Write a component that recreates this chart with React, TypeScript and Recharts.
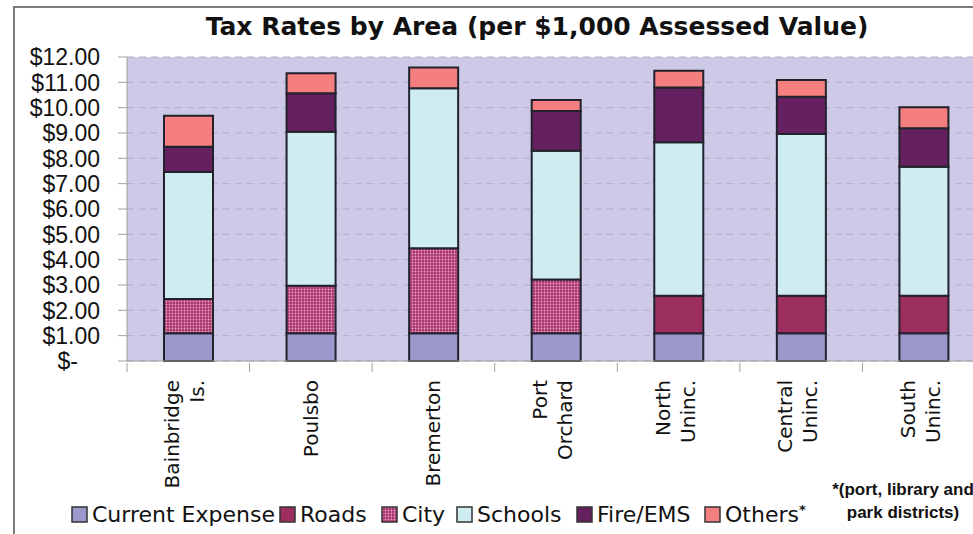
import React from "react"
import { Bar, BarChart, CartesianGrid, XAxis, YAxis } from "recharts"

const categories = ["Bainbridge Is.", "Poulsbo", "Bremerton", "Port Orchard", "North Uninc.", "Central Uninc.", "South Uninc."]
const currentExpense = [1.1, 1.1, 1.1, 1.1, 1.1, 1.1, 1.1]
const roads = [0, 0, 0, 0, 1.48, 1.48, 1.48]
const city = [1.35, 1.87, 3.35, 2.12, 0, 0, 0]
const schools = [5.01, 6.08, 6.32, 5.08, 6.05, 6.38, 5.09]
const fireEms = [1.0, 1.52, 0, 1.57, 2.17, 1.47, 1.52]
const others = [1.22, 0.79, 0.82, 0.43, 0.66, 0.66, 0.83]
const yTicks = [0, 1, 2, 3, 4, 5, 6, 7, 8, 9, 10, 11, 12]

const series = [
  { key: "currentExpense", name: "Current Expense", values: currentExpense, fill: "#9b98cb" },
  { key: "roads", name: "Roads", values: roads, fill: "#9c2f60" },
  { key: "city", name: "City", values: city, fill: "url(#cityDots)" },
  { key: "schools", name: "Schools", values: schools, fill: "#cfedf1" },
  { key: "fireEms", name: "Fire/EMS", values: fireEms, fill: "#64205f" },
  { key: "others", name: "Others", values: others, fill: "#f47f7e" },
]

// legend item x positions (layout only)
const legendLeft = [71, 279, 381, 456, 576, 704]

const data = categories.map((c, i) => {
  const row: any = { name: c }
  series.forEach((s) => (row[s.key] = s.values[i]))
  return row
})

const CHART_W = 985
const PLOT_LEFT = 127
const BAND = (CHART_W - PLOT_LEFT) / categories.length

function XTick(props: any) {
  const { x, y, payload } = props
  const lines: string[] = String(payload.value).split(" ")
  const offs = lines.length === 1 ? [0] : [-16, 9]
  return (
    <g>
      <line x1={x - BAND / 2} x2={x - BAND / 2} y1={y} y2={y + 9} stroke="#a0a0a0" strokeWidth={1} />
      {lines.map((l, i) => (
        <text
          key={i}
          x={x + offs[i]}
          y={y + 17}
          dy="0.35em"
          textAnchor="end"
          transform={`rotate(-90, ${x + offs[i]}, ${y + 17})`}
          fontFamily="DejaVu Sans"
          fontSize={20}
          fill="#111"
        >
          {l}
        </text>
      ))}
    </g>
  )
}

function YTick(props: any) {
  const { x, y, payload } = props
  const v = payload.value
  const label = v === 0 ? "$-" : `$${v.toFixed(2)}`
  return (
    <text x={v === 0 ? x - 22 : x} y={y} dy="0.36em" textAnchor="end" fontFamily="Liberation Sans" fontSize={23} fill="#111">
      {label}
    </text>
  )
}

function Swatch({ fill }: { fill: string }) {
  return (
    <svg width={17} height={17} style={{ marginRight: 4, flex: "none" }}>
      <defs>
        <pattern id="cityDotsLegend" width="3" height="3" patternUnits="userSpaceOnUse">
          <rect width="3" height="3" fill="#a8376d" />
          <circle cx="1.5" cy="1.5" r="0.9" fill="#eea0c8" />
        </pattern>
      </defs>
      <rect x={1} y={1} width={15} height={15} fill={fill === "url(#cityDots)" ? "url(#cityDotsLegend)" : fill} stroke="#333" strokeWidth={1.5} />
    </svg>
  )
}

export default function App() {
  return (
    <div style={{ position: "absolute", left: 0, top: 0, width: 973, height: 534, overflow: "hidden", background: "#fff" }}>
      <div style={{ position: "absolute", left: 13, top: 6, width: 1000, height: 600, borderTop: "2px solid #7a7a7a", borderLeft: "2px solid #7a7a7a" }} />
      <div
        style={{
          position: "absolute",
          left: 0,
          width: 1074,
          top: 12,
          textAlign: "center",
          fontFamily: "DejaVu Sans",
          fontWeight: "bold",
          fontSize: 25,
          color: "#111",
        }}
      >
        Tax Rates by Area (per $1,000 Assessed Value)
      </div>
      <div style={{ position: "absolute", left: 0, top: 0 }}>
        <BarChart width={CHART_W} height={534} data={data} margin={{ top: 57, right: 0, left: 0, bottom: 53 }} barSize={49}>
          <defs>
            <pattern id="cityDots" width="3" height="3" patternUnits="userSpaceOnUse">
              <rect width="3" height="3" fill="#a8376d" />
              <circle cx="1.5" cy="1.5" r="0.9" fill="#eea0c8" />
            </pattern>
          </defs>
          <CartesianGrid vertical={false} fill="#cdc9e6" stroke="#b0aec8" strokeDasharray="7 5" />
          <XAxis dataKey="name" height={120} axisLine={{ stroke: "#a0a0a0" }} tickLine={false} tickSize={0} tick={<XTick />} interval={0} />
          <YAxis
            width={PLOT_LEFT}
            domain={[0, 12]}
            ticks={yTicks}
            interval={0}
            axisLine={{ stroke: "#a0a0a0" }}
            tickLine={{ stroke: "#a0a0a0" }}
            tickSize={9}
            tickMargin={18}
            tick={<YTick />}
          />
          {series.map((s) => (
            <Bar key={s.key} dataKey={s.key} name={s.name} stackId="a" fill={s.fill} stroke="#22222e" strokeWidth={2} isAnimationActive={false} />
          ))}
        </BarChart>
      </div>
      {series.map((s, i) => (
        <div
          key={s.key}
          style={{
            position: "absolute",
            left: legendLeft[i],
            top: 502,
            display: "flex",
            alignItems: "center",
            fontFamily: "DejaVu Sans",
            fontSize: 22,
            color: "#111",
            whiteSpace: "nowrap",
          }}
        >
          <Swatch fill={s.fill} />
          <span>
            {s.name}
            {s.key === "others" ? <sup style={{ fontSize: 13, fontWeight: "bold" }}>*</sup> : null}
          </span>
        </div>
      ))}
      <div
        style={{
          position: "absolute",
          left: 825,
          width: 156,
          top: 478,
          textAlign: "center",
          fontFamily: "Liberation Sans",
          fontWeight: "bold",
          fontSize: 17,
          lineHeight: "23px",
          color: "#111",
        }}
      >
        *(port, library and
        <br />
        park districts)
      </div>
    </div>
  )
}
